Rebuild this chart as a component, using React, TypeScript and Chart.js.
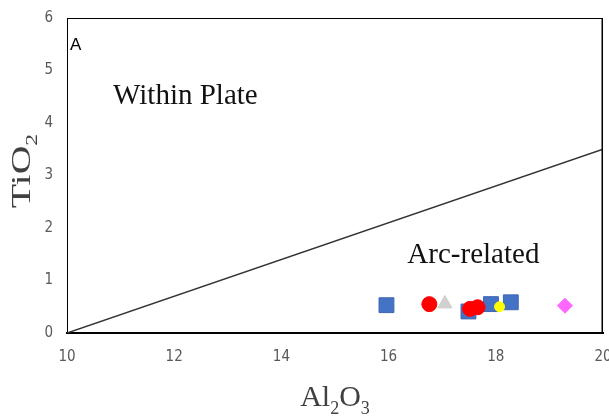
import React, { useEffect, useRef } from "react";
import { Chart, registerables } from "chart.js";

Chart.register(...registerables);

const xTicksMin = 10;
const xTicksMax = 20;
const yTicksMin = 0;
const yTicksMax = 6;

const boundaryLine = [
  { x: 10, y: 0 },
  { x: 20, y: 3.5 },
];

const blueSquares = [
  { x: 15.96, y: 0.53 },
  { x: 17.49, y: 0.41 },
  { x: 17.91, y: 0.55 },
  { x: 18.28, y: 0.585 },
];
const redCircles = [
  { x: 16.76, y: 0.55 },
  { x: 17.52, y: 0.46 },
  { x: 17.66, y: 0.49 },
];
const grayTriangles = [{ x: 17.05, y: 0.556 }];
const yellowCircles = [{ x: 18.07, y: 0.5 }];
const pinkDiamonds = [{ x: 19.29, y: 0.52 }];

const fieldLabels = [
  { text: "Within Plate", x: 10.86, y: 4.36 },
  { text: "Arc-related", x: 16.35, y: 1.33 },
];

type Part = { t: string; sub?: boolean };

function drawParts(ctx: CanvasRenderingContext2D, parts: Part[], size: number, subRatio: number, subDrop: number, family: string, x: number, y: number) {
  const subSize = size * subRatio;
  let total = 0;
  const widths = parts.map((p) => {
    ctx.font = `${p.sub ? subSize : size}px ${family}`;
    const w = ctx.measureText(p.t).width;
    total += w;
    return w;
  });
  let cx = x - total / 2;
  parts.forEach((p, i) => {
    ctx.font = `${p.sub ? subSize : size}px ${family}`;
    ctx.fillText(p.t, cx, p.sub ? y + subDrop : y);
    cx += widths[i];
  });
}

const annotPlugin = {
  id: "annot",
  afterDraw(chart: any) {
    const { ctx, chartArea } = chart;
    const { left, right, top, bottom } = chartArea;
    const xs = chart.scales.x;
    const ys = chart.scales.y;
    ctx.save();
    ctx.strokeStyle = "#000";
    ctx.lineWidth = 1;
    ctx.beginPath();
    ctx.moveTo(left, top + 0.5);
    ctx.lineTo(right, top + 0.5);
    ctx.stroke();
    ctx.lineWidth = 1.5;
    ctx.beginPath();
    ctx.moveTo(right - 0.75, top);
    ctx.lineTo(right - 0.75, bottom);
    ctx.stroke();

    ctx.textBaseline = "alphabetic";
    ctx.textAlign = "left";
    ctx.fillStyle = "#111";
    ctx.font = "29px 'Liberation Serif'";
    fieldLabels.forEach((l) => {
      ctx.fillText(l.text, xs.getPixelForValue(l.x), ys.getPixelForValue(l.y));
    });

    ctx.font = "17px 'Liberation Sans'";
    ctx.fillStyle = "#000";
    ctx.fillText("A", left + 3, top + 32);

    ctx.fillStyle = "#404040";
    drawParts(ctx, [{ t: "Al" }, { t: "2", sub: true }, { t: "O" }, { t: "3", sub: true }], 30, 0.6, 8, "'Liberation Serif'", (left + right) / 2, 406);

    ctx.save();
    ctx.translate(30, 171);
    ctx.rotate(-Math.PI / 2);
    ctx.scale(1.42, 1);
    drawParts(ctx, [{ t: "TiO" }, { t: "2", sub: true }], 28, 0.6, 7, "'Liberation Serif'", 0, 0);
    ctx.restore();
    ctx.restore();
  },
};

const tickFont = { family: "'Liberation Sans Narrow', 'DejaVu Sans Condensed', 'Liberation Sans'", size: 15 };

export default function App() {
  const ref = useRef<HTMLCanvasElement>(null);
  useEffect(() => {
    if (!ref.current) return;
    const chart = new Chart(ref.current, {
      type: "scatter",
      data: {
        datasets: [
          {
            type: "line",
            label: "boundary",
            data: boundaryLine,
            borderColor: "#333",
            borderWidth: 1.5,
            pointRadius: 0,
            order: 10,
          } as any,
          {
            label: "blue",
            data: blueSquares,
            pointStyle: "rect",
            pointRadius: 10.5,
            backgroundColor: "#4472C4",
            borderColor: "#3d66b0",
            borderWidth: 1,
            order: 5,
          },
          {
            label: "gray",
            data: grayTriangles,
            pointStyle: "triangle",
            pointRadius: 8.3,
            backgroundColor: "#D0D0D0",
            borderColor: "#D0D0D0",
            borderWidth: 1,
            order: 4,
          },
          {
            label: "red",
            data: redCircles,
            pointStyle: "circle",
            pointRadius: 7.5,
            backgroundColor: "#FF0000",
            borderColor: "#FF0000",
            borderWidth: 1,
            order: 3,
          },
          {
            label: "yellow",
            data: yellowCircles,
            pointStyle: "circle",
            pointRadius: 5,
            backgroundColor: "#FFFF00",
            borderColor: "#FFFF00",
            borderWidth: 1,
            order: 2,
          },
          {
            label: "pink",
            data: pinkDiamonds,
            pointStyle: "rectRot",
            pointRadius: 7.5,
            backgroundColor: "#FF66FF",
            borderColor: "#FF66FF",
            borderWidth: 1,
            order: 1,
          },
        ],
      },
      options: {
        animation: false,
        responsive: false,
        maintainAspectRatio: false,
        layout: { autoPadding: false, padding: { top: 18, right: 6, left: 0, bottom: 0 } },
        plugins: { legend: { display: false }, tooltip: { enabled: false } },
        scales: {
          x: {
            type: "linear",
            min: xTicksMin,
            max: xTicksMax,
            grid: { display: false },
            border: { display: true, color: "#000", width: 2 },
            ticks: { stepSize: 2, padding: 7, color: "#595959", font: tickFont },
            afterFit: (s: any) => {
              s.height = 83;
              s.paddingLeft = 0;
              s.paddingRight = 0;
              s.paddingTop = 0;
              s.paddingBottom = 0;
            },
          },
          y: {
            type: "linear",
            min: yTicksMin,
            max: yTicksMax,
            grid: { display: false },
            border: { display: true, color: "#000", width: 1 },
            ticks: { stepSize: 1, padding: 6, color: "#595959", font: tickFont },
            afterFit: (s: any) => {
              s.width = 67;
              s.paddingLeft = 0;
              s.paddingRight = 0;
              s.paddingTop = 0;
              s.paddingBottom = 0;
            },
          },
        },
      },
      plugins: [annotPlugin],
    });
    return () => chart.destroy();
  }, []);
  return (
    <div style={{ position: "fixed", left: 0, top: 0, width: 609, height: 416, background: "#fff" }}>
      <canvas ref={ref} width={609} height={416} style={{ width: 609, height: 416 }} />
    </div>
  );
}
